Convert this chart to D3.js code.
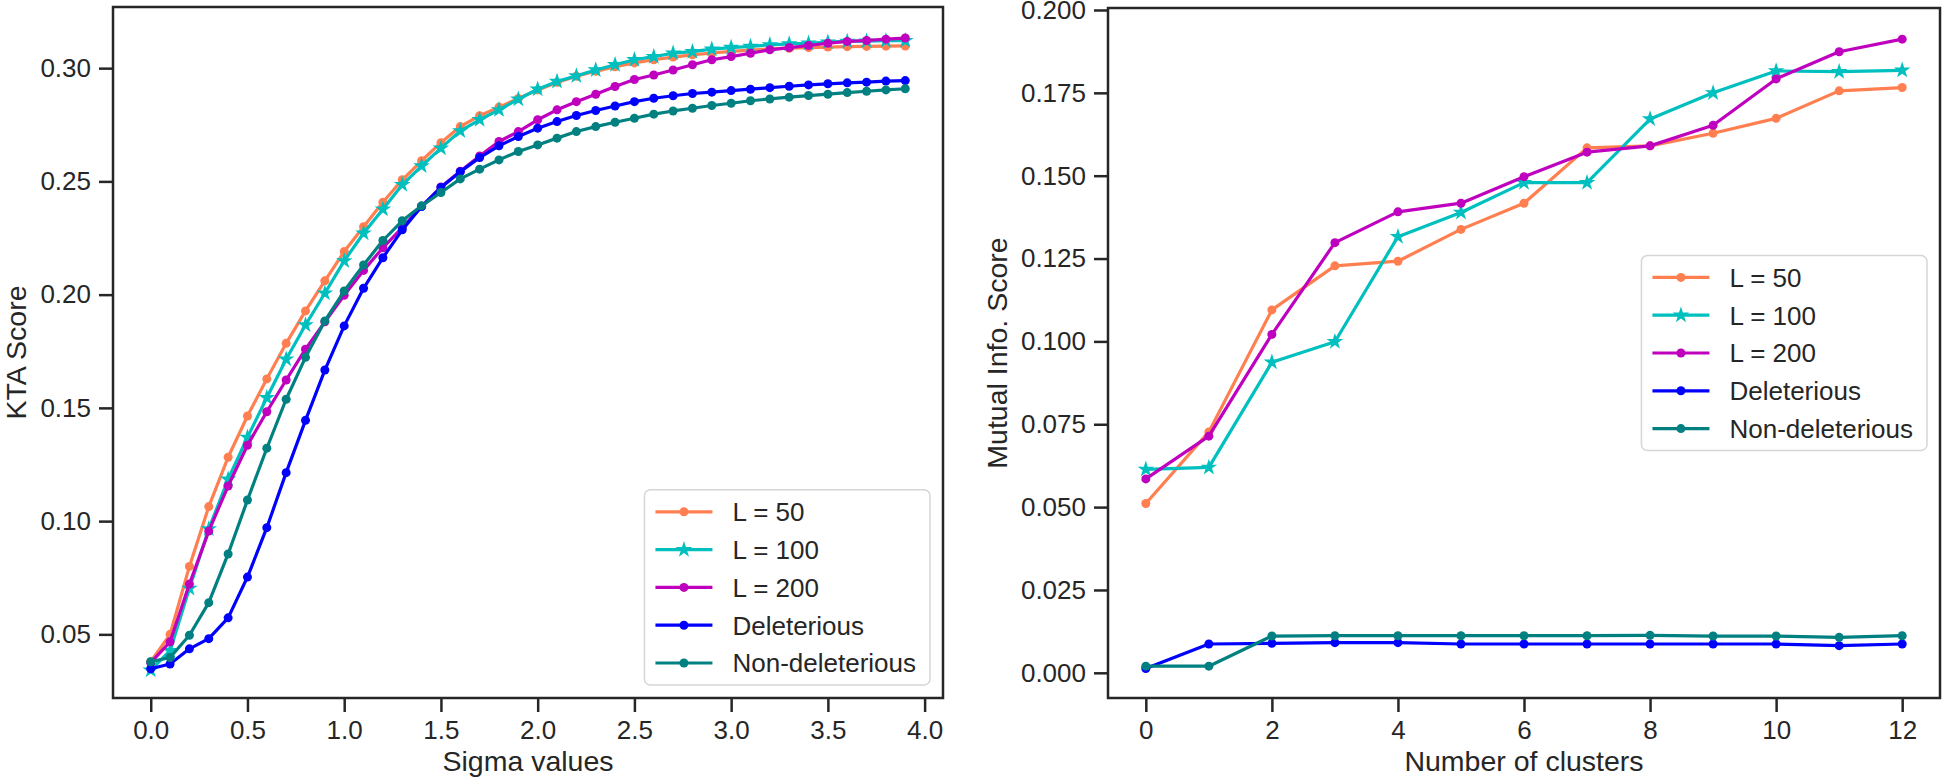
<!DOCTYPE html>
<html>
<head>
<meta charset="utf-8">
<script src="https://cdn.jsdelivr.net/npm/d3@7"></script>
<style>
body { margin: 0; background: #ffffff; }
text { font-family: "Liberation Sans", Arial, sans-serif; fill: #262626; }
</style>
</head>
<body>
<div id="chart"></div>
<script>
// ---- data ----
var seriesNames = ["L = 50", "L = 100", "L = 200", "Deleterious", "Non-deleterious"];
var seriesColors = ["#ff7f50", "#00bfbf", "#bf00bf", "#0000ff", "#008080"];
var seriesMarkers = ["dot", "star", "dot", "dot", "dot"];

// left panel: KTA score vs sigma
var sigmaValues = [0.0, 0.1, 0.2, 0.3, 0.4, 0.5, 0.6, 0.7, 0.8, 0.9,
	1.0, 1.1, 1.2, 1.3, 1.4, 1.5, 1.6, 1.7, 1.8, 1.9,
	2.0, 2.1, 2.2, 2.3, 2.4, 2.5, 2.6, 2.7, 2.8, 2.9,
	3.0, 3.1, 3.2, 3.3, 3.4, 3.5, 3.6, 3.7, 3.8, 3.9];
var ktaL50 = [0.0379, 0.0500, 0.0800, 0.1064, 0.1282, 0.1464, 0.1628, 0.1785, 0.1928, 0.2061,
	0.2190, 0.2300, 0.2408, 0.2507, 0.2591, 0.2671, 0.2742, 0.2790, 0.2828, 0.2866,
	0.2904, 0.2937, 0.2964, 0.2986, 0.3006, 0.3023, 0.3037, 0.3049, 0.3059, 0.3067,
	0.3074, 0.3080, 0.3085, 0.3088, 0.3091, 0.3093, 0.3095, 0.3096, 0.3097, 0.3098];
var ktaL100 = [0.0342, 0.0428, 0.0703, 0.0965, 0.1185, 0.1370, 0.1545, 0.1715, 0.1866, 0.2006,
	0.2149, 0.2271, 0.2377, 0.2485, 0.2568, 0.2647, 0.2723, 0.2772, 0.2816, 0.2863,
	0.2907, 0.2941, 0.2966, 0.2992, 0.3015, 0.3037, 0.3051, 0.3066, 0.3073, 0.3084,
	0.3091, 0.3096, 0.3103, 0.3107, 0.3110, 0.3115, 0.3118, 0.3119, 0.3121, 0.3121];
var ktaL200 = [0.0375, 0.0467, 0.0722, 0.0956, 0.1155, 0.1335, 0.1483, 0.1623, 0.1759, 0.1880,
	0.1997, 0.2107, 0.2207, 0.2296, 0.2390, 0.2475, 0.2545, 0.2612, 0.2676, 0.2720,
	0.2772, 0.2816, 0.2852, 0.2885, 0.2919, 0.2950, 0.2970, 0.2992, 0.3015, 0.3037,
	0.3051, 0.3066, 0.3081, 0.3091, 0.3100, 0.3110, 0.3118, 0.3122, 0.3128, 0.3133];
var ktaDel = [0.0348, 0.0369, 0.0436, 0.0481, 0.0573, 0.0753, 0.0971, 0.1214, 0.1445, 0.1667,
	0.1862, 0.2028, 0.2163, 0.2286, 0.2389, 0.2473, 0.2543, 0.2605, 0.2657, 0.2698,
	0.2735, 0.2764, 0.2791, 0.2813, 0.2833, 0.2852, 0.2867, 0.2878, 0.2888, 0.2894,
	0.2901, 0.2907, 0.2914, 0.2920, 0.2926, 0.2931, 0.2935, 0.2938, 0.2943, 0.2945];
var ktaNonDel = [0.0379, 0.0398, 0.0496, 0.0640, 0.0855, 0.1093, 0.1322, 0.1538, 0.1723, 0.1884,
	0.2016, 0.2131, 0.2239, 0.2326, 0.2392, 0.2451, 0.2511, 0.2554, 0.2595, 0.2632,
	0.2661, 0.2691, 0.2720, 0.2742, 0.2761, 0.2779, 0.2797, 0.2811, 0.2823, 0.2835,
	0.2845, 0.2856, 0.2864, 0.2872, 0.2879, 0.2885, 0.2892, 0.2898, 0.2904, 0.2909];
var sigmaTicks = [0.0, 0.5, 1.0, 1.5, 2.0, 2.5, 3.0, 3.5, 4.0];
var ktaTicks = [0.05, 0.10, 0.15, 0.20, 0.25, 0.30];

// right panel: mutual info vs number of clusters
var clusterValues = [0, 1, 2, 3, 4, 5, 6, 7, 8, 9, 10, 11, 12];
var miL50 = [0.0511, 0.0727, 0.1095, 0.1228, 0.1242, 0.1338, 0.1417, 0.1584, 0.1590, 0.1628, 0.1673, 0.1756, 0.1766];
var miL100 = [0.0614, 0.0620, 0.0937, 0.0999, 0.1316, 0.1389, 0.1479, 0.1479, 0.1671, 0.1750, 0.1816, 0.1814, 0.1818];
var miL200 = [0.0585, 0.0714, 0.1021, 0.1298, 0.1391, 0.1417, 0.1497, 0.1571, 0.1590, 0.1652, 0.1792, 0.1874, 0.1912];
var miDel = [0.0013, 0.0087, 0.0089, 0.0091, 0.0091, 0.0087, 0.0087, 0.0087, 0.0087, 0.0087, 0.0087, 0.0082, 0.0087];
var miNonDel = [0.0020, 0.0020, 0.0111, 0.0112, 0.0112, 0.0112, 0.0112, 0.0112, 0.0113, 0.0111, 0.0111, 0.0107, 0.0112];
var clusterTicks = [0, 2, 4, 6, 8, 10, 12];
var miTicks = [0.000, 0.025, 0.050, 0.075, 0.100, 0.125, 0.150, 0.175, 0.200];

const width = 1943;
const height = 781;
const tickFont = 26;
const labelFont = 28.5;
const ink = "#262626";

var svg = d3.select("#chart").append("svg")
	.attr("width", width)
	.attr("height", height);

function drawPanel(cfg){
	var xScale = d3.scaleLinear().domain(cfg.xDomain).range([cfg.left, cfg.right]);
	var yScale = d3.scaleLinear().domain(cfg.yDomain).range([cfg.bottom, cfg.top]);
	var g = svg.append("g");

	var line = d3.line()
		.x(function(d){ return xScale(d[0]); })
		.y(function(d){ return yScale(d[1]); });

	// lines + markers, in plotting order
	cfg.series.forEach(function(vals, i){
		var pts = vals.map(function(v, j){ return [cfg.xValues[j], v]; });
		var sg = g.append("g");
		sg.append("path")
			.datum(pts)
			.attr("d", line)
			.attr("fill", "none")
			.attr("stroke", seriesColors[i])
			.attr("stroke-width", 3.2)
			.attr("stroke-linejoin", "round");
		drawMarkers(sg, pts.map(function(p){ return [xScale(p[0]), yScale(p[1])]; }), i);
	});

	// axes
	var yAxis = d3.axisLeft(yScale).tickValues(cfg.yTicks).tickFormat(d3.format(cfg.yFmt))
		.tickSize(14).tickPadding(8);
	var xAxis = d3.axisBottom(xScale).tickValues(cfg.xTicks).tickFormat(d3.format(cfg.xFmt))
		.tickSize(14).tickPadding(9);

	var ya = g.append("g").attr("transform", "translate(" + cfg.left + ",0)").call(yAxis);
	var xa = g.append("g").attr("transform", "translate(0," + cfg.bottom + ")").call(xAxis);
	[ya, xa].forEach(function(a){
		a.select(".domain").remove();
		a.attr("font-family", null).attr("font-size", tickFont);
		a.selectAll(".tick line").attr("stroke", ink).attr("stroke-width", 2.5);
		a.selectAll(".tick text").attr("fill", ink);
	});

	// frame
	g.append("rect")
		.attr("x", cfg.left).attr("y", cfg.top)
		.attr("width", cfg.right - cfg.left)
		.attr("height", cfg.bottom - cfg.top)
		.attr("fill", "none")
		.attr("stroke", ink)
		.attr("stroke-width", 2.5);

	// axis labels
	g.append("text")
		.attr("x", (cfg.left + cfg.right) / 2)
		.attr("y", 771)
		.attr("text-anchor", "middle")
		.style("font-size", labelFont + "px")
		.text(cfg.xLabel);
	g.append("text")
		.attr("transform", "translate(" + cfg.yLabelX + "," + ((cfg.top + cfg.bottom) / 2) + ") rotate(-90)")
		.attr("text-anchor", "middle")
		.style("font-size", labelFont + "px")
		.text(cfg.yLabel);

	drawLegend(g, cfg);
}

function drawMarkers(sg, pts, i){
	if(seriesMarkers[i] == "star"){
		sg.selectAll("path.mk")
			.data(pts)
			.enter()
			.append("path")
			.attr("class", "mk")
			.attr("d", d3.symbol().type(d3.symbolStar).size(85))
			.attr("transform", function(d){ return "translate(" + d[0] + "," + d[1] + ")"; })
			.attr("fill", seriesColors[i]);
	}
	else{
		sg.selectAll("circle")
			.data(pts)
			.enter()
			.append("circle")
			.attr("cx", function(d){ return d[0]; })
			.attr("cy", function(d){ return d[1]; })
			.attr("r", 4.5)
			.attr("fill", seriesColors[i]);
	}
}

function drawLegend(g, cfg){
	var rowGap = 37.8;
	var lg = g.append("g");
	var box = lg.append("rect")
		.attr("fill", "#ffffff")
		.attr("fill-opacity", 0.8)
		.attr("stroke", "#d6d6d6")
		.attr("stroke-width", 1.5)
		.attr("rx", 6);

	var maxW = 0;
	seriesNames.forEach(function(name, i){
		var row = lg.append("g").attr("transform", "translate(0," + (22 + i * rowGap) + ")");
		row.append("line")
			.attr("x1", 11).attr("x2", 68)
			.attr("stroke", seriesColors[i])
			.attr("stroke-width", 3.2);
		drawMarkers(row, [[39.5, 0]], i);
		var t = row.append("text")
			.attr("x", 88)
			.attr("dy", "0.36em")
			.style("font-size", tickFont + "px")
			.text(name);
		maxW = Math.max(maxW, t.node().getComputedTextLength());
	});

	var bw = 88 + maxW + 14;
	var bh = 22 * 2 + rowGap * 4;
	box.attr("width", bw).attr("height", bh);

	var bx = cfg.right - 13 - bw;
	var by;
	if(cfg.legendPos == "lower right")
		by = cfg.bottom - 13 - bh;
	else
		by = (cfg.top + cfg.bottom) / 2 - bh / 2;
	lg.attr("transform", "translate(" + bx + "," + by + ")");
}

drawPanel({
	left: 113, right: 943, top: 7, bottom: 698,
	xDomain: [-0.195, 4.095], yDomain: [0.0219, 0.327],
	xTicks: sigmaTicks, yTicks: ktaTicks, xFmt: ".1f", yFmt: ".2f",
	xValues: sigmaValues,
	series: [ktaL50, ktaL100, ktaL200, ktaDel, ktaNonDel],
	xLabel: "Sigma values", yLabel: "KTA Score", yLabelX: 26,
	legendPos: "lower right"
});

drawPanel({
	left: 1108, right: 1940, top: 8, bottom: 698,
	xDomain: [-0.6, 12.6], yDomain: [-0.0076, 0.2006],
	xTicks: clusterTicks, yTicks: miTicks, xFmt: "d", yFmt: ".3f",
	xValues: clusterValues,
	series: [miL50, miL100, miL200, miDel, miNonDel],
	xLabel: "Number of clusters", yLabel: "Mutual Info. Score", yLabelX: 1007,
	legendPos: "center right"
});
</script>
</body>
</html>
